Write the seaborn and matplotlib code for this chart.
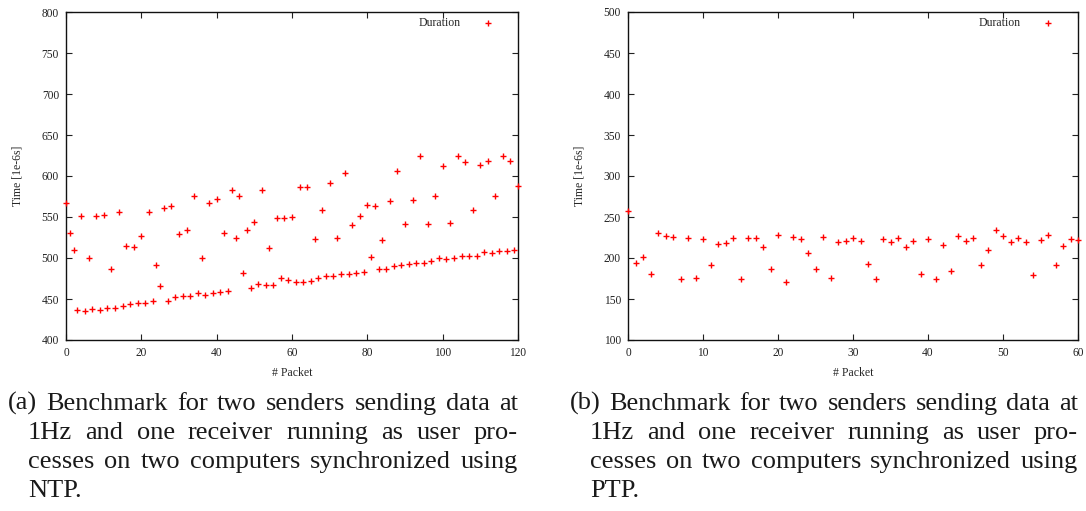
import matplotlib
matplotlib.use("Agg")
import matplotlib.pyplot as plt
import seaborn as sns
import pandas as pd
import numpy as np

# NTP run (121 packets)
ntp_time = [567, 530, 510, 436, 551, 435, 500, 438, 551, 437,
            553, 439, 486, 439, 556, 441, 515, 444, 513, 445,
            527, 445, 556, 447, 492, 466, 561, 448, 564, 453,
            529, 454, 534, 454, 575, 457, 500, 455, 567, 457,
            572, 458, 531, 460, 583, 524, 576, 482, 534, 464,
            544, 468, 583, 467, 512, 467, 549, 475, 549, 473,
            550, 471, 586, 471, 586, 472, 523, 476, 558, 478,
            592, 478, 524, 480, 604, 481, 540, 482, 551, 483,
            565, 501, 564, 487, 522, 487, 569, 490, 606, 491,
            541, 493, 571, 494, 624, 494, 541, 496, 576, 500,
            612, 499, 543, 500, 624, 502, 617, 503, 558, 503,
            614, 507, 618, 506, 575, 508, 625, 509, 618, 510,
            588]

# PTP run (61 packets)
ptp_time = [257, 194, 201, 180, 230, 227, 226, 174, 224, 176,
            223, 191, 217, 218, 225, 174, 224, 225, 214, 186,
            228, 171, 226, 223, 206, 186, 226, 176, 220, 221,
            225, 221, 193, 174, 223, 220, 224, 214, 221, 180,
            223, 175, 216, 184, 227, 221, 224, 192, 210, 234,
            227, 220, 224, 219, 179, 222, 228, 191, 215, 223,
            222]

ntp_yticks = [400, 450, 500, 550, 600, 650, 700, 750, 800]
ntp_xticks = [0, 20, 40, 60, 80, 100, 120]
ptp_yticks = [100, 150, 200, 250, 300, 350, 400, 450, 500]
ptp_xticks = [0, 10, 20, 30, 40, 50, 60]

caption_a = ["(a) Benchmark for two senders sending data at",
             "1Hz and one receiver running as user pro-",
             "cesses on two computers synchronized using",
             "NTP."]
caption_b = ["(b) Benchmark for two senders sending data at",
             "1Hz and one receiver running as user pro-",
             "cesses on two computers synchronized using",
             "PTP."]

sns.set_style("ticks")
plt.rcParams["font.family"] = ["Liberation Serif", "DejaVu Serif"]

W, H = 1086, 511
fig = plt.figure(figsize=(W / 100, H / 100), dpi=100)


def px_axes(x0, y0, x1, y1):
    return fig.add_axes([x0 / W, 1 - y1 / H, (x1 - x0) / W, (y1 - y0) / H])


def draw_panel(ax, values, xticks, yticks):
    df = pd.DataFrame({"packet": np.arange(len(values)), "time": values})
    sns.scatterplot(data=df, x="packet", y="time", ax=ax, marker="+",
                    color="#ff0000", s=20, linewidth=1.0, label="Duration",
                    clip_on=False, zorder=3)
    ax.set_xlim(xticks[0], xticks[-1])
    ax.set_ylim(yticks[0], yticks[-1])
    ax.set_xticks(xticks)
    ax.set_yticks(yticks)
    ax.tick_params(direction="in", length=4, width=0.8, labelsize=8.3,
                   top=True, right=True, pad=5, colors="#222222")
    for sp in ax.spines.values():
        sp.set_linewidth(1.0)
        sp.set_color("#111111")
    ax.set_xlabel("# Packet", fontsize=8.5, labelpad=6)
    ax.set_ylabel("Time [1e-6s]", fontsize=8.5, labelpad=13)
    ax.legend(loc="upper right", frameon=False, fontsize=8.5,
              markerfirst=False, handletextpad=1.3,
              borderaxespad=0.0, bbox_to_anchor=(0.97, 1.0))


ax1 = px_axes(66, 12, 518, 340)
ax2 = px_axes(628, 12, 1078, 340)
draw_panel(ax1, ntp_time, ntp_xticks, ntp_yticks)
draw_panel(ax2, ptp_time, ptp_xticks, ptp_yticks)

fig.canvas.draw()
renderer = fig.canvas.get_renderer()
CAP_FS = 19.0


def justify(lines, x_first, x_rest, x_right, y_first, step):
    for i, line in enumerate(lines):
        y = 1 - (y_first + i * step) / H
        x0 = x_first if i == 0 else x_rest
        words = line.split(" ")
        if i == len(lines) - 1 or len(words) == 1:
            fig.text(x0 / W, y, line, fontsize=CAP_FS, va="baseline",
                     ha="left", color="#1a1a1a")
            continue
        texts = [fig.text(0, y, w, fontsize=CAP_FS, va="baseline",
                          ha="left", color="#1a1a1a") for w in words]
        widths = [t.get_window_extent(renderer).width for t in texts]
        gap = (x_right - x0 - sum(widths)) / (len(words) - 1)
        x = x0
        for t, wd in zip(texts, widths):
            t.set_x(x / W)
            x += wd + gap


justify(caption_a, 8, 28, 518, 410, 29)
justify(caption_b, 570, 590, 1078, 410, 29)

fig.savefig("out.png", dpi=100)
